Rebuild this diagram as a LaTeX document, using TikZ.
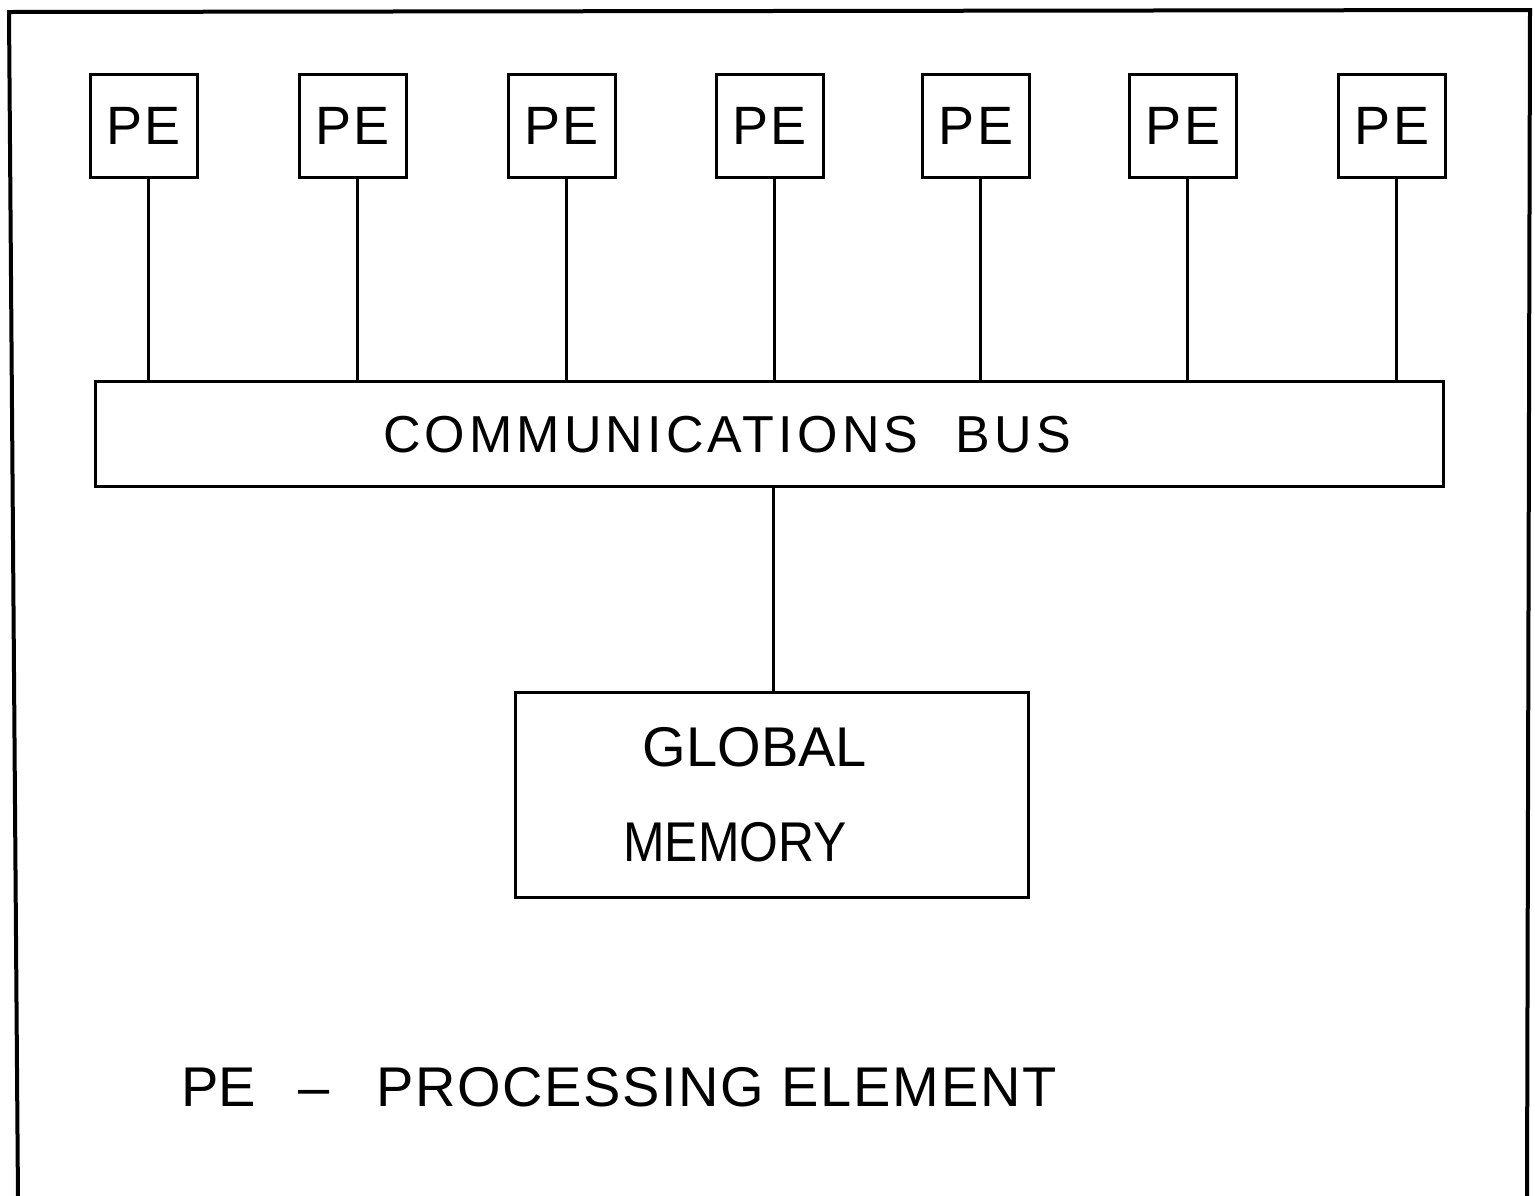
\documentclass[tikz,border=0pt]{standalone}
\usepackage{fontspec}
\newfontfamily\plotfont[LetterSpace=8]{Liberation Sans}
\newfontfamily\plotfontbox[LetterSpace=5]{Liberation Sans}
\newfontfamily\plotfontlegend[LetterSpace=3]{Liberation Sans}
\newfontfamily\plotfontnarrow{Liberation Sans}

\begin{document}
\begin{tikzpicture}[x=1pt, y=-1pt,
  frame/.style={draw, line width=4pt, line cap=butt},
  pebox/.style={draw, line width=3pt, minimum width=107pt, minimum height=103pt,
                inner sep=0pt, font=\plotfontbox\fontsize{54}{54}\selectfont},
  busbox/.style={draw, line width=3pt, minimum width=1348pt, minimum height=105pt, inner sep=0pt},
  membox/.style={draw, line width=3pt, minimum width=513pt, minimum height=205pt, inner sep=0pt},
  txt/.style={inner sep=0pt},
  link/.style={draw, line width=3pt}]

\useasboundingbox (0,0) rectangle (1535,1195);
\fill[white] (0,0) rectangle (1535,1195);

% outer frame, open at the bottom edge
\draw[frame] (18,1200) -- (9,12) -- (1530,10) -- (1527,1200);

% processing elements
\foreach \i/\x in {1/143.5, 2/352.5, 3/561.5, 4/769.5, 5/976, 6/1183, 7/1392}
  \node[pebox] (pe\i) at (\x,125.5) {PE};

% communications bus
\node[busbox] (bus) at (769,433.5) {};
\node[txt, anchor=base, font=\plotfont\fontsize{52}{52}\selectfont] (bustxt) at (727,452)
  {COMMUNICATIONS\ \ BUS};

% global memory
\node[membox] (mem) at (771.5,794.5) {};
\node[txt, anchor=base, font=\plotfontnarrow\fontsize{56}{56}\selectfont] (memtxt1) at (755,766) {GLOBAL};
\node[txt, anchor=base, font=\plotfontnarrow\fontsize{56}{56}\selectfont] (memtxt2) at (735,861) {\scalebox{0.89}[1]{MEMORY}};

% connections
\foreach \i in {1,...,7}
  \draw[link] ([xshift=4.5pt]pe\i.south) -- ([xshift=4.5pt]pe\i.south |- bus.north);
\draw[link] ([xshift=1.5pt]mem.north) -- ([xshift=1.5pt]mem.north |- bus.south);

% legend
\node[txt, anchor=base west, font=\plotfontnarrow\fontsize{56}{56}\selectfont] (legend) at (181,1106)
  {PE\hspace{43pt}\textendash\hspace{46pt}{\plotfontlegend PROCESSING ELEMENT}};

\end{tikzpicture}
\end{document}
